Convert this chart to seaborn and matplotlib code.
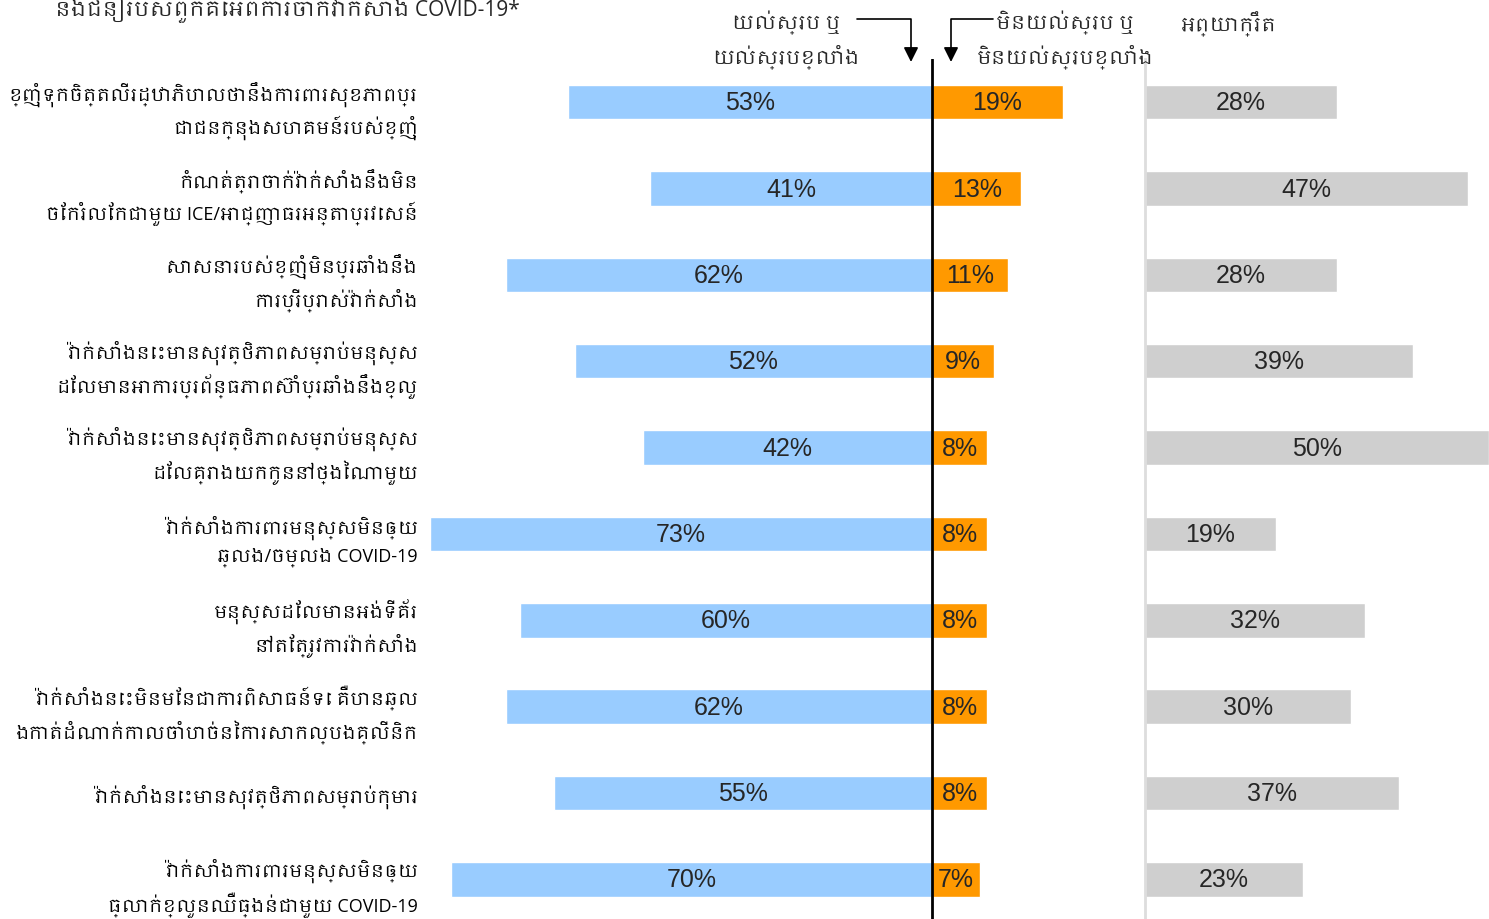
import pandas as pd
import numpy as np
import matplotlib.pyplot as plt
import seaborn as sns
from matplotlib import font_manager

# chart data
labels = [
    "ខ្ញុំទុកចិត្តលើរដ្ឋាភិបាលថានឹងការពារសុខភាពប្រ\nជាជនក្នុងសហគមន៍របស់ខ្ញុំ",
    "កំណត់ត្រាចាក់វ៉ាក់សាំងនឹងមិន\nចែករំលែកជាមួយ ICE/អាជ្ញាធរអន្តោប្រវេសន៍",
    "សាសនារបស់ខ្ញុំមិនប្រឆាំងនឹង\nការប្រើប្រាស់វ៉ាក់សាំង",
    "វ៉ាក់សាំងនេះមានសុវត្ថិភាពសម្រាប់មនុស្ស\nដែលមានអាការប្រព័ន្ធភាពស៊ាំប្រឆាំងនឹងខ្លួ",
    "វ៉ាក់សាំងនេះមានសុវត្ថិភាពសម្រាប់មនុស្ស\nដែលគ្រោងយកកូននៅថ្ងៃណាមួយ",
    "វ៉ាក់សាំងការពារមនុស្សមិនឲ្យ\nឆ្លង/ចម្លង COVID-19",
    "មនុស្សដែលមានអង់ទីគ័រ\nនៅតែត្រូវការវ៉ាក់សាំង",
    "វ៉ាក់សាំងនេះមិនមែនជាការពិសោធន៍ទេ គឺបានឆ្ល\nងកាត់ដំណាក់កាលចាំបាច់នៃការសាកល្បងគ្លីនិក",
    "វ៉ាក់សាំងនេះមានសុវត្ថិភាពសម្រាប់កុមារ",
    "វ៉ាក់សាំងការពារមនុស្សមិនឲ្យ\nធ្លាក់ខ្លួនឈឺធ្ងន់ជាមួយ COVID-19",
]
agree = [53, 41, 62, 52, 42, 73, 60, 62, 55, 70]
disagree = [19, 13, 11, 9, 8, 8, 8, 8, 8, 7]
neutral = [28, 47, 28, 39, 50, 19, 32, 30, 37, 23]

title = "និងជំនឿរបស់ពួកគេអំពីការចាក់វ៉ាក់សាំង COVID-19*"
head_agree = "យល់ស្រប ឬ\nយល់ស្របខ្លាំង"
head_disagree = "មិនយល់ស្រប ឬ\nមិនយល់ស្របខ្លាំង"
head_neutral = "អព្យាក្រឹត"

df = pd.DataFrame({'label': labels, 'agree': agree, 'disagree': disagree, 'neutral': neutral})
df['agree_neg'] = -df['agree']

sns.set_theme(style='white')
# Latin from Open Sans, Khmer glyphs from a Khmer font if the machine has one
khmer = sorted(set(f.name for f in font_manager.fontManager.ttflist if 'khmer' in f.name.lower()))
plt.rcParams['font.family'] = ['Open Sans'] + khmer + ['DejaVu Sans']

W, H = 1489, 920
s = 6.87  # pixels per percent
fig = plt.figure(figsize=(W / 100, H / 100), dpi=100)

# diverging part: agree (left) / disagree (right)
x0, x1 = -73, 30
left_px = 932 + x0 * s
ax1 = fig.add_axes([left_px / W, 0, (x1 - x0) * s / W, 860 / H])
sns.barplot(data=df, x='agree_neg', y='label', color='#99CCFF', saturation=1, width=0.4, orient='h', ax=ax1)
sns.barplot(data=df, x='disagree', y='label', color='#FF9900', saturation=1, width=0.4, orient='h', ax=ax1)
ax1.bar_label(ax1.containers[0], labels=[f"{v}%" for v in agree], label_type='center',
              fontsize=18, family='Liberation Sans')
ax1.bar_label(ax1.containers[1], labels=[f"{v}%" for v in disagree], label_type='center',
              fontsize=18, family='Liberation Sans')
ax1.axvline(0, color='black', lw=2)
ax1.set_xlim(x0, x1)
ax1.set_ylim(9.46, -0.50)
ax1.set_xticks([])
ax1.set_xlabel('')
ax1.set_ylabel('')
ax1.tick_params(axis='y', left=False, pad=3, labelsize=13)
for t in ax1.get_yticklabels():
    t.set_linespacing(1.5)
    t.set_color('black')
sns.despine(ax=ax1, left=True, bottom=True)

# neutral panel
ax2 = fig.add_axes([1145 / W, 0, 344 / W, 860 / H])
sns.barplot(data=df, x='neutral', y='label', color='#CFCFCF', saturation=1, width=0.4, orient='h', ax=ax2)
ax2.bar_label(ax2.containers[0], labels=[f"{v}%" for v in neutral], label_type='center',
              fontsize=18, family='Liberation Sans')
ax2.set_xlim(0, 344 / s)
ax2.set_ylim(9.46, -0.50)
ax2.set_xticks([])
ax2.set_yticks([])
ax2.set_xlabel('')
ax2.set_ylabel('')
sns.despine(ax=ax2, bottom=True)
ax2.spines['left'].set_color('#DDDDDD')
ax2.spines['left'].set_linewidth(2)

# headers
fig.text(55 / W, 1 - 16 / H, title, ha='left', va='baseline', fontsize=15)
fig.text(786 / W, 1 - 40 / H, head_agree, ha='center', va='center', fontsize=14, linespacing=1.45)
fig.text(1065 / W, 1 - 40 / H, head_disagree, ha='center', va='center', fontsize=14, linespacing=1.45)
fig.text(1229 / W, 1 - 24 / H, head_neutral, ha='center', va='center', fontsize=14)

arrow = dict(arrowstyle='-|>', connectionstyle='angle,angleA=0,angleB=90,rad=0',
             color='black', lw=1.2, mutation_scale=22, shrinkA=0, shrinkB=0)
fig.add_artist(plt.Annotation('', xy=(911, H - 63), xycoords='figure pixels',
                              xytext=(857, H - 20), textcoords='figure pixels', arrowprops=arrow))
fig.add_artist(plt.Annotation('', xy=(951, H - 63), xycoords='figure pixels',
                              xytext=(993, H - 20), textcoords='figure pixels', arrowprops=arrow))

fig.savefig('out.png', dpi=100)
